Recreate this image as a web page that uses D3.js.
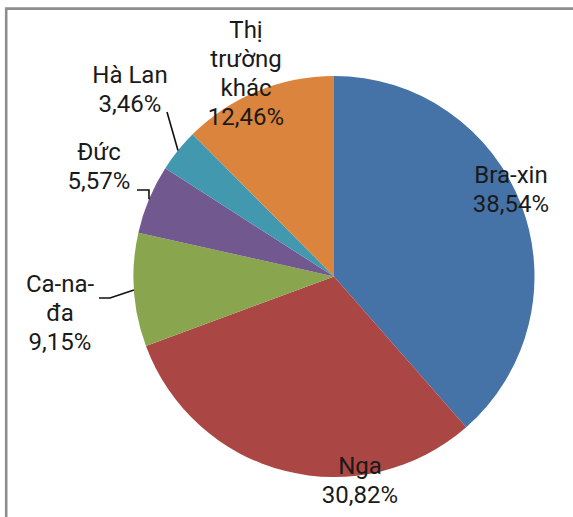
<!DOCTYPE html>
<html>
<head>
<meta charset="utf-8">
<script src="https://cdn.jsdelivr.net/npm/d3@7"></script>
<style>
  html, body { margin: 0; padding: 0; background: #fff; }
  svg { display: block; }
  text { font-family: Roboto, "Noto Sans", sans-serif; font-size: 24px; fill: #1a1a1a; }
</style>
</head>
<body>
<svg id="chart" width="573" height="517"></svg>
<script>
// Market shares, clockwise from 12 o'clock
const categories = ["Bra-xin", "Nga", "Ca-na-đa", "Đức", "Hà Lan", "Thị trường khác"];
const shares = [38.54, 30.82, 9.15, 5.57, 3.46, 12.46];
const labelLines = [
  ["Bra-xin"],
  ["Nga"],
  ["Ca-na-", "đa"],
  ["Đức"],
  ["Hà Lan"],
  ["Thị", "trường", "khác"]
];
const colors = ["#4572a7", "#aa4643", "#89a54e", "#71588f", "#4198af", "#db843d"];

const svg = d3.select("#chart");
const W = 573, H = 517;

// Frame (open on the right and bottom)
svg.append("path")
  .attr("d", `M6.2,${H} V8.6 H${W}`)
  .attr("fill", "none")
  .attr("stroke", "#8e8e8e")
  .attr("stroke-width", 2.6);

const cx = 334, cy = 276.5, R = 200.5;
const fmt = v => d3.format(".2f")(v).replace(".", ",") + "%";

const pie = d3.pie().sort(null).value(d => d.value).startAngle(0).endAngle(2 * Math.PI);
const data = categories.map((c, i) => ({ name: c, value: shares[i], lines: labelLines[i], color: colors[i] }));
const arcs = pie(data);
const arc = d3.arc().innerRadius(0).outerRadius(R);

const g = svg.append("g").attr("transform", `translate(${cx},${cy})`);
g.selectAll("path.slice")
  .data(arcs)
  .join("path")
  .attr("class", "slice")
  .attr("d", arc)
  .attr("fill", d => d.data.color);

// Label layout: centre x and first baseline, in page coordinates
const layout = {
  "Bra-xin": { x: 511, y: 183 },
  "Nga": { x: 360, y: 474 },
  "Ca-na-đa": { x: 60, y: 292 },
  "Đức": { x: 99, y: 160 },
  "Hà Lan": { x: 130, y: 83 },
  "Thị trường khác": { x: 246, y: 38 }
};
const lh = 29;

arcs.forEach(d => {
  const p = layout[d.data.name];
  const t = svg.append("text").attr("text-anchor", "middle");
  const lines = d.data.lines.concat([fmt(d.data.value)]);
  lines.forEach((s, k) => {
    t.append("tspan").attr("x", p.x).attr("y", p.y + k * lh).text(s);
  });
});

// Leader lines from the slice's outer mid-angle to its label
const edge = d => {
  const a = (d.startAngle + d.endAngle) / 2;
  return [cx + R * Math.sin(a), cy - R * Math.cos(a)];
};
const byName = n => arcs.find(d => d.data.name === n);
const leaders = [
  { name: "Ca-na-đa", pts: e => [e, [110, 298], [99, 298]] },
  { name: "Đức", pts: e => [e, [e[0], 190], [137, 190]] },
  { name: "Hà Lan", pts: e => [e, [167, 112]] }
];
leaders.forEach(l => {
  const e = edge(byName(l.name));
  svg.append("path")
    .attr("d", d3.line()(l.pts(e)))
    .attr("fill", "none")
    .attr("stroke", "#111")
    .attr("stroke-width", 1.6);
});
</script>
</body>
</html>
